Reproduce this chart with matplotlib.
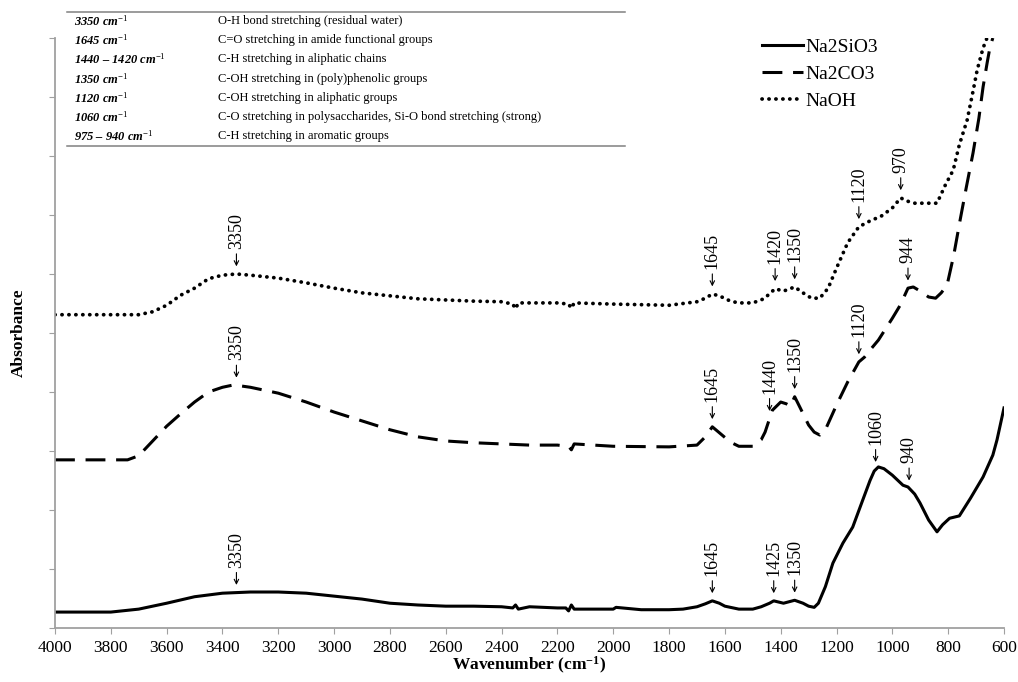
import numpy as np
import matplotlib
matplotlib.use("Agg")
import matplotlib.pyplot as plt
from matplotlib.lines import Line2D

plt.rcParams['font.family'] = ['Liberation Serif', 'DejaVu Serif']
plt.rcParams['mathtext.fontset'] = 'custom'
plt.rcParams['mathtext.rm'] = 'Liberation Serif'
plt.rcParams['mathtext.it'] = 'Liberation Serif:italic'
plt.rcParams['mathtext.bf'] = 'Liberation Serif:bold'

# ========== Spectra (wavenumber, absorbance in arbitrary offset units) ==========
sio3_wn = [4000, 3900, 3800, 3700, 3600, 3500, 3400, 3300, 3200, 3100, 3000, 2900, 2800,
           2700, 2600, 2500, 2400, 2360, 2350, 2340, 2300, 2200, 2170, 2160, 2150, 2140,
           2000, 1990, 1900, 1800, 1750, 1700, 1670, 1645, 1620, 1600, 1550, 1500, 1470,
           1440, 1425, 1390, 1350, 1320, 1300, 1280, 1265, 1240, 1213, 1177, 1142, 1106,
           1080, 1065, 1050, 1030, 1000, 962, 944, 920, 901, 870, 840, 820, 795, 760, 720,
           675, 640, 625, 600]
sio3_abs = [0.27, 0.27, 0.27, 0.32, 0.42, 0.53, 0.59, 0.61, 0.61, 0.59, 0.54, 0.49, 0.42,
            0.39, 0.37, 0.37, 0.36, 0.34, 0.39, 0.32, 0.36, 0.34, 0.34, 0.29, 0.39, 0.32,
            0.32, 0.35, 0.31, 0.31, 0.32, 0.36, 0.41, 0.46, 0.42, 0.37, 0.32, 0.32, 0.36,
            0.42, 0.46, 0.42, 0.47, 0.42, 0.37, 0.35, 0.42, 0.70, 1.10, 1.44, 1.71, 2.17,
            2.50, 2.66, 2.73, 2.70, 2.59, 2.42, 2.39, 2.27, 2.12, 1.83, 1.63, 1.75, 1.86,
            1.90, 2.20, 2.56, 2.93, 3.19, 3.73]

co3_wn = [4000, 3900, 3800, 3740, 3700, 3660, 3600, 3550, 3500, 3450, 3400, 3360, 3300,
          3200, 3100, 3000, 2900, 2800, 2700, 2600, 2500, 2400, 2300, 2200, 2160, 2150,
          2140, 2000, 1800, 1700, 1670, 1645, 1620, 1580, 1550, 1500, 1470, 1456, 1430,
          1400, 1380, 1365, 1350, 1330, 1300, 1280, 1260, 1240, 1200, 1160, 1120, 1100,
          1080, 1050, 1000, 972, 944, 925, 900, 870, 845, 825, 804, 780, 757, 735, 711,
          690, 675, 660, 650, 640]
co3_abs = [2.85, 2.85, 2.85, 2.85, 2.92, 3.12, 3.42, 3.63, 3.83, 4.00, 4.08, 4.12, 4.08,
           3.98, 3.83, 3.66, 3.51, 3.36, 3.24, 3.17, 3.14, 3.12, 3.10, 3.10, 3.08, 3.02,
           3.12, 3.08, 3.07, 3.10, 3.24, 3.41, 3.31, 3.15, 3.08, 3.08, 3.19, 3.32, 3.69,
           3.83, 3.80, 3.76, 3.92, 3.73, 3.44, 3.32, 3.27, 3.36, 3.78, 4.17, 4.51, 4.59,
           4.71, 4.88, 5.25, 5.47, 5.76, 5.78, 5.71, 5.61, 5.59, 5.68, 5.81, 6.32, 6.92,
           7.47, 8.05, 8.64, 9.17, 9.59, 9.85, 10.0]

naoh_wn = [4000, 3900, 3800, 3700, 3650, 3600, 3550, 3500, 3450, 3400, 3350, 3300, 3200,
           3100, 3000, 2900, 2800, 2700, 2600, 2500, 2400, 2360, 2350, 2340, 2200, 2160,
           2150, 2140, 2000, 1800, 1700, 1670, 1645, 1620, 1580, 1550, 1500, 1460, 1420,
           1390, 1350, 1320, 1290, 1260, 1230, 1200, 1160, 1120, 1080, 1040, 1000, 970,
           950, 920, 880, 840, 810, 782, 760, 732, 710, 696, 675, 661, 650]
naoh_abs = [5.31, 5.31, 5.31, 5.31, 5.36, 5.47, 5.64, 5.76, 5.92, 5.98, 6.00, 5.98, 5.93,
            5.85, 5.76, 5.68, 5.63, 5.58, 5.56, 5.54, 5.53, 5.49, 5.41, 5.51, 5.51, 5.49,
            5.42, 5.51, 5.49, 5.47, 5.53, 5.59, 5.66, 5.63, 5.54, 5.51, 5.51, 5.58, 5.75,
            5.71, 5.78, 5.68, 5.59, 5.59, 5.76, 6.10, 6.53, 6.80, 6.90, 6.98, 7.12, 7.29,
            7.24, 7.20, 7.20, 7.20, 7.51, 7.76, 8.19, 8.61, 9.12, 9.46, 9.83, 10.0, 10.0]

series_names = ['Na2SiO3', 'Na2CO3', 'NaOH']

# Peak labels per spectrum
sio3_peaks = [3350, 1645, 1425, 1350, 1060, 940]
co3_peaks = [3350, 1645, 1440, 1350, 1120, 944]
naoh_peaks = [3350, 1645, 1420, 1350, 1120, 970]

# Band assignment table
table_bands = [r'3350 cm$^{-1}$', r'1645 cm$^{-1}$', r'1440 – 1420 cm$^{-1}$',
               r'1350 cm$^{-1}$', r'1120 cm$^{-1}$', r'1060 cm$^{-1}$',
               r'975 – 940 cm$^{-1}$']
table_assign = ['O-H bond stretching (residual water)',
                'C=O stretching in amide functional groups',
                'C-H stretching in aliphatic chains',
                'C-OH stretching in (poly)phenolic groups',
                'C-OH stretching in aliphatic groups',
                'C-O stretching in polysaccharides, Si-O bond stretching (strong)',
                'C-H stretching in aromatic groups']

# ========== Plot ==========
W, H = 1018, 682
fig = plt.figure(figsize=(W / 100, H / 100), dpi=100)
ax = fig.add_axes([55 / W, 1 - 628 / H, 949 / W, 590 / H])

lw = 2.2
ax.plot(sio3_wn, sio3_abs, color='black', lw=lw, solid_joinstyle='round',
        label=series_names[0])
ax.plot(co3_wn, co3_abs, color='black', lw=lw, dashes=(6.5, 3.5),
        label=series_names[1])
ax.plot(naoh_wn, naoh_abs, color='black', lw=2.7, linestyle=(0, (0.05, 1.8)),
        dash_capstyle='round', label=series_names[2])

ax.set_xlim(4000, 600)
ax.set_ylim(0, 10)
ax.set_xticks(np.arange(4000, 599, -200))
ax.set_yticks(np.arange(0, 10.1, 1))
ax.set_yticklabels([])
ax.tick_params(axis='x', labelsize=12.5, direction='out', length=4, color='#a0a0a0', pad=5)
ax.tick_params(axis='y', direction='out', length=4, color='#a0a0a0')
for side in ['top', 'right']:
    ax.spines[side].set_visible(False)
for side in ['left', 'bottom']:
    ax.spines[side].set_color('#a0a0a0')
    ax.spines[side].set_linewidth(1.3)

ax.set_xlabel(r'Wavenumber (cm$^{\mathbf{-1}}$)', fontsize=12.5, fontweight='bold')
ax.xaxis.set_label_coords(0.5, -0.045)
ax.set_ylabel('Absorbance', fontsize=12.5, fontweight='bold')
ax.yaxis.set_label_coords(-0.030, 0.5)

# Peak annotations: small down arrow with rotated wavenumber above it
for wn, ab, peaks in [(sio3_wn, sio3_abs, sio3_peaks),
                      (co3_wn, co3_abs, co3_peaks),
                      (naoh_wn, naoh_abs, naoh_peaks)]:
    for p in peaks:
        yv = np.interp(p, wn[::-1], ab[::-1])
        ax.annotate(str(p), xy=(p, yv), xytext=(0, 18), textcoords='offset points',
                    rotation=90, ha='center', va='bottom', fontsize=13,
                    arrowprops=dict(arrowstyle='->', lw=0.8, color='black',
                                    shrinkA=1.5, shrinkB=5.5, mutation_scale=8))

leg = ax.legend(loc='upper left', bbox_to_anchor=(0.745, 1.0), frameon=False,
                fontsize=14, handlelength=2.1, handletextpad=0.15, labelspacing=0.5,
                borderpad=0, borderaxespad=0)

# Band assignment table, drawn in figure pixels
fx = lambda px: px / W
fy = lambda py: 1 - py / H
for py in [12, 146]:
    fig.add_artist(Line2D([fx(67), fx(625)], [fy(py), fy(py)], color='#808080', lw=1.1))
row_y = [21, 40, 59, 79, 98, 117, 136]
for yy, band, desc in zip(row_y, table_bands, table_assign):
    fig.text(fx(74), fy(yy), band, fontsize=9, fontweight='bold', fontstyle='italic',
             va='center', ha='left')
    fig.text(fx(218), fy(yy), desc, fontsize=9, va='center', ha='left')

fig.savefig('out.png', dpi=100)
